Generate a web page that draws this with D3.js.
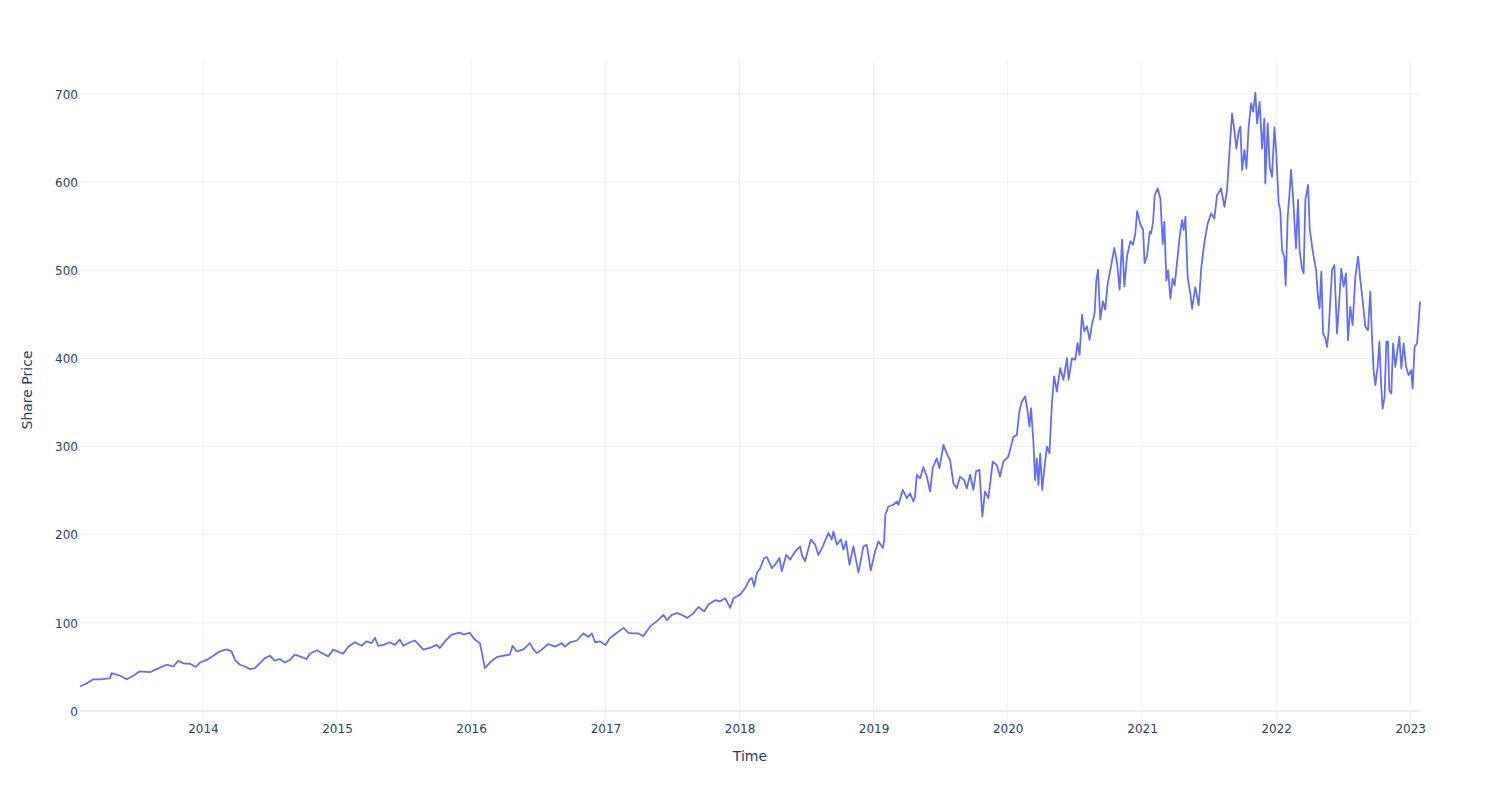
<!DOCTYPE html>
<html>
<head>
<meta charset="utf-8">
<script src="https://cdn.jsdelivr.net/npm/d3@7"></script>
<style>
  html, body { margin: 0; padding: 0; background: #fff; }
  svg { display: block; }
  text { font-family: "DejaVu Sans", Verdana, sans-serif; fill: #2a3f5f; }
</style>
</head>
<body>
<svg id="chart" width="1500" height="800"></svg>
<script>
// ---- data (time as decimal year, price) ----
const timeYears = [
  2013.083, 2013.133, 2013.182, 2013.232, 2013.306, 2013.319, 2013.381, 2013.431, 2013.480, 2013.530,
  2013.605, 2013.655, 2013.729, 2013.779, 2013.816, 2013.853, 2013.903, 2013.948, 2013.978,
  2014.028, 2014.077, 2014.127, 2014.177, 2014.214, 2014.239, 2014.276, 2014.313, 2014.350, 2014.388,
  2014.425, 2014.462, 2014.500, 2014.537, 2014.574, 2014.611, 2014.649, 2014.686, 2014.723, 2014.773,
  2014.798, 2014.848, 2014.897, 2014.934, 2014.972,
  2015.046, 2015.084, 2015.133, 2015.183, 2015.221, 2015.258, 2015.283, 2015.307, 2015.345, 2015.394,
  2015.432, 2015.469, 2015.494, 2015.544, 2015.581, 2015.606, 2015.643, 2015.693, 2015.743, 2015.767,
  2015.805, 2015.855, 2015.916, 2015.941, 2015.991,
  2016.028, 2016.066, 2016.086, 2016.103, 2016.140, 2016.190, 2016.239, 2016.289, 2016.309, 2016.339,
  2016.389, 2016.438, 2016.463, 2016.488, 2016.526, 2016.575, 2016.625, 2016.675, 2016.699, 2016.737,
  2016.787, 2016.836, 2016.873, 2016.899, 2016.923, 2016.960,
  2017.000, 2017.035, 2017.085, 2017.134, 2017.172, 2017.209, 2017.246, 2017.283, 2017.333, 2017.383,
  2017.433, 2017.458, 2017.495, 2017.532, 2017.570, 2017.611, 2017.656, 2017.694, 2017.736, 2017.768,
  2017.818, 2017.855, 2017.893, 2017.917, 2017.930, 2017.955,
  2018.004, 2018.042, 2018.074, 2018.092, 2018.109, 2018.129, 2018.154, 2018.183, 2018.204, 2018.241,
  2018.265, 2018.298, 2018.315, 2018.348, 2018.377, 2018.415, 2018.452, 2018.465, 2018.489, 2018.532,
  2018.564, 2018.588, 2018.621, 2018.663, 2018.688, 2018.700, 2018.726, 2018.755, 2018.775, 2018.795,
  2018.820, 2018.849, 2018.887, 2018.924, 2018.949, 2018.979,
  2019.011, 2019.036, 2019.069, 2019.078, 2019.088, 2019.110, 2019.148, 2019.173, 2019.185, 2019.218,
  2019.248, 2019.272, 2019.297, 2019.309, 2019.322, 2019.347, 2019.371, 2019.397, 2019.421, 2019.441,
  2019.471, 2019.491, 2019.521, 2019.550, 2019.570, 2019.595, 2019.620, 2019.645, 2019.675, 2019.695,
  2019.720, 2019.744, 2019.764, 2019.789, 2019.811, 2019.831, 2019.856, 2019.889, 2019.919, 2019.943,
  2019.968,
  2020.005, 2020.043, 2020.068, 2020.087, 2020.105, 2020.130, 2020.147, 2020.162, 2020.174, 2020.192,
  2020.204, 2020.217, 2020.229, 2020.242, 2020.257, 2020.274, 2020.292, 2020.311, 2020.329, 2020.346,
  2020.366, 2020.391, 2020.415, 2020.441, 2020.453, 2020.478, 2020.503, 2020.520, 2020.535, 2020.553,
  2020.570, 2020.590, 2020.609, 2020.627, 2020.647, 2020.659, 2020.672, 2020.689, 2020.709, 2020.726,
  2020.743, 2020.769, 2020.793, 2020.814, 2020.833, 2020.851, 2020.868, 2020.888, 2020.913, 2020.933,
  2020.950, 2020.963, 2020.987,
  2021.007, 2021.019, 2021.037, 2021.057, 2021.067, 2021.082, 2021.094, 2021.116, 2021.136, 2021.154,
  2021.166, 2021.181, 2021.194, 2021.211, 2021.228, 2021.243, 2021.261, 2021.280, 2021.298, 2021.310,
  2021.323, 2021.340, 2021.360, 2021.373, 2021.397, 2021.422, 2021.442, 2021.465, 2021.489, 2021.515,
  2021.539, 2021.559, 2021.589, 2021.614, 2021.634, 2021.651, 2021.671, 2021.688, 2021.703, 2021.720,
  2021.733, 2021.746, 2021.763, 2021.778, 2021.795, 2021.813, 2021.828, 2021.845, 2021.858, 2021.877,
  2021.895, 2021.912, 2021.919, 2021.937, 2021.952, 2021.969, 2021.987,
  2022.001, 2022.019, 2022.031, 2022.044, 2022.061, 2022.071, 2022.086, 2022.098, 2022.111, 2022.126,
  2022.148, 2022.163, 2022.175, 2022.193, 2022.205, 2022.218, 2022.238, 2022.250, 2022.268, 2022.280,
  2022.298, 2022.312, 2022.324, 2022.337, 2022.350, 2022.367, 2022.380, 2022.391, 2022.404, 2022.417,
  2022.434, 2022.454, 2022.471, 2022.486, 2022.503, 2022.521, 2022.536, 2022.553, 2022.570, 2022.591,
  2022.611, 2022.628, 2022.645, 2022.665, 2022.685, 2022.702, 2022.715, 2022.727, 2022.740, 2022.757,
  2022.770, 2022.784, 2022.794, 2022.809, 2022.822, 2022.834, 2022.844, 2022.859, 2022.872, 2022.889,
  2022.902, 2022.919, 2022.934, 2022.951, 2022.969, 2022.988,
  2023.008, 2023.018, 2023.033, 2023.051, 2023.063, 2023.073
];
const sharePrice = [
  27.8, 31.5, 36, 36, 37, 43, 40, 36, 40, 45,
  44, 47.5, 52.5, 50.5, 57, 54, 53.6, 50, 55,
  58, 62.7, 67.7, 70, 67.7, 58, 52.5, 50.5, 47.5, 48.7,
  54.4, 60, 62.7, 57, 59, 55, 58, 64, 62, 59,
  65, 69, 65, 62, 69.6,
  65, 73, 78, 74, 79, 77, 83, 74, 75, 78,
  75, 81, 74, 78, 80, 76, 69.6, 71.5, 75, 71.5,
  79, 86.7, 89, 86.7, 88.6,
  81, 77, 62, 48.7, 55, 61, 62.7, 64, 74, 67.7,
  70, 77, 70, 65.8, 69.6, 76, 73, 77, 73, 78,
  80, 88, 84, 88, 78, 79,
  75, 83, 88.7, 94.3, 88.7, 88, 88, 85, 96, 102,
  109, 103, 109, 111, 109, 105.7, 111, 118, 113, 120.8,
  125.7, 124.5, 128, 120.8, 117, 128,
  132, 139.6, 149, 151, 141.5, 156.6, 162, 173.6, 174.7, 162,
  166, 173.6, 158.5, 177, 171.7, 181, 186.8, 177, 170, 194.5,
  188.7, 177, 186.8, 202, 194.5, 203.8, 188.7, 194.5, 183, 192.5,
  166, 186.8, 157, 186.8, 188.7, 159.6,
  181, 192.5, 185, 192.5, 222.6, 232, 234, 237.7, 234, 251,
  241.5, 247, 237.7, 243, 268, 264, 276.6, 266, 249, 275.5,
  286.8, 275.5, 302, 290.6, 285, 258.5, 252.8, 266, 262, 252.8,
  268, 251, 271.7, 273.6, 220.7, 249, 241.5, 283, 279, 266,
  283,
  288.7, 311, 313, 340, 351, 356.8, 341.7, 322.7, 343.6, 303.8,
  262, 286.7, 256.4, 292.4, 250.8, 277, 300, 292.4, 349, 379.5,
  362.5, 389, 375.8, 400.4, 375.8, 400.4, 398.5, 417.4, 404, 449.6,
  430.7, 436.4, 421, 438.3, 451.5, 487.5, 500.8, 444, 464.8, 455.3,
  483.7, 504.5, 525.4, 508.3, 478, 534.8, 481.8, 516, 533, 529,
  542.4, 567, 552,
  546, 508.3, 516, 544, 541.7, 555, 585, 592.8, 581.4, 530,
  555, 488.6, 500, 467.8, 490.5, 483, 509.5, 537.9, 556.8, 545.5,
  560.6, 492.4, 473.5, 456.4, 481, 460.2, 503.8, 532, 553, 564.4,
  558.7, 585, 592.8, 572, 591, 632.6, 678, 659, 638, 657,
  663, 613.6, 636.4, 615.5, 663, 689.4, 680, 701.5, 666.7, 691,
  638, 672, 598.5, 666.7, 617.4, 606, 662,
  632.6, 575.7, 568, 522.7, 515, 483, 561, 583.7, 614, 583.7,
  525, 580, 523, 502, 496.6, 580, 597, 547.7, 527, 515.5,
  500.4, 470, 456.8, 498.5, 428.4, 422.7, 413, 430.3, 466.3, 500.4,
  506, 428.4, 466.3, 502, 481.4, 496.6, 420.8, 458.7, 437.9, 492.8,
  515.5, 489, 466.3, 436, 432, 475.8, 424.6, 386.7, 369.7, 390.5,
  419, 367.8, 343, 356.4, 419, 419, 364, 360.2, 417, 390.5,
  405.7, 424.6, 388.6, 417, 390.5, 381,
  386.7, 366, 413.3, 417, 441.7, 464.4
];
const yTickValues = [0, 100, 200, 300, 400, 500, 600, 700];
const xTickYears = [2014, 2015, 2016, 2017, 2018, 2019, 2020, 2021, 2022, 2023];
const xTitle = "Time";
const yTitle = "Share Price";

// ---- helpers ----
function decYearToDate(t) {
  const y = Math.floor(t);
  const a = Date.UTC(y, 0, 1), b = Date.UTC(y + 1, 0, 1);
  return new Date(a + (t - y) * (b - a));
}
const data = timeYears.map((t, i) => ({ date: decYearToDate(t), value: sharePrice[i] }));

// ---- layout ----
const W = 1500, H = 800;
const plot = { left: 80, right: 1420, top: 60, bottom: 720 };
const svg = d3.select("#chart");

const x = d3.scaleUtc()
  .domain(d3.extent(data, d => d.date))
  .range([plot.left, plot.right]);
const y = d3.scaleLinear()
  .domain([-10.2, 738.6])
  .range([plot.bottom, plot.top]);

const gridColor = "#EBF0F8";
const xTicks = xTickYears.map(yr => new Date(Date.UTC(yr, 0, 1)));

// vertical grid
svg.append("g")
  .selectAll("line").data(xTicks).join("line")
  .attr("x1", d => x(d)).attr("x2", d => x(d))
  .attr("y1", plot.top).attr("y2", plot.bottom)
  .attr("stroke", gridColor).attr("stroke-width", 1);

// horizontal grid
svg.append("g")
  .selectAll("line").data(yTickValues.filter(v => v !== 0)).join("line")
  .attr("x1", plot.left).attr("x2", plot.right)
  .attr("y1", d => y(d)).attr("y2", d => y(d))
  .attr("stroke", gridColor).attr("stroke-width", 1);

// zero line
svg.append("line")
  .attr("x1", plot.left).attr("x2", plot.right)
  .attr("y1", y(0)).attr("y2", y(0))
  .attr("stroke", gridColor).attr("stroke-width", 2);

// x axis labels
const xAxis = d3.axisBottom(x).tickValues(xTicks).tickFormat(d3.utcFormat("%Y")).tickSize(0).tickPadding(0);
const gx = svg.append("g").attr("transform", `translate(0,${plot.bottom})`).call(xAxis);
gx.select(".domain").remove();
gx.selectAll("text").attr("font-size", 12).attr("dy", null).attr("y", 12.5)
  .attr("font-family", '"DejaVu Sans", Verdana, sans-serif').attr("fill", "#2a3f5f");

// y axis labels
const yAxis = d3.axisLeft(y).tickValues(yTickValues).tickSize(0).tickPadding(0);
const gy = svg.append("g").attr("transform", `translate(${plot.left - 2},0)`).call(yAxis);
gy.select(".domain").remove();
gy.selectAll("text").attr("font-size", 12).attr("x", 0).attr("dy", "0.35em")
  .attr("font-family", '"DejaVu Sans", Verdana, sans-serif').attr("fill", "#2a3f5f");

// line
const line = d3.line().x(d => x(d.date)).y(d => y(d.value));
svg.append("path")
  .datum(data)
  .attr("fill", "none")
  .attr("stroke", "#636efa")
  .attr("stroke-width", 1.8)
  .attr("stroke-linejoin", "round")
  .attr("d", line);

// axis titles
svg.append("text")
  .attr("x", (plot.left + plot.right) / 2).attr("y", 761)
  .attr("text-anchor", "middle").attr("font-size", 14)
  .text(xTitle);
svg.append("text")
  .attr("transform", `translate(32,${(plot.top + plot.bottom) / 2}) rotate(-90)`)
  .attr("text-anchor", "middle").attr("font-size", 14)
  .text(yTitle);
</script>
</body>
</html>
